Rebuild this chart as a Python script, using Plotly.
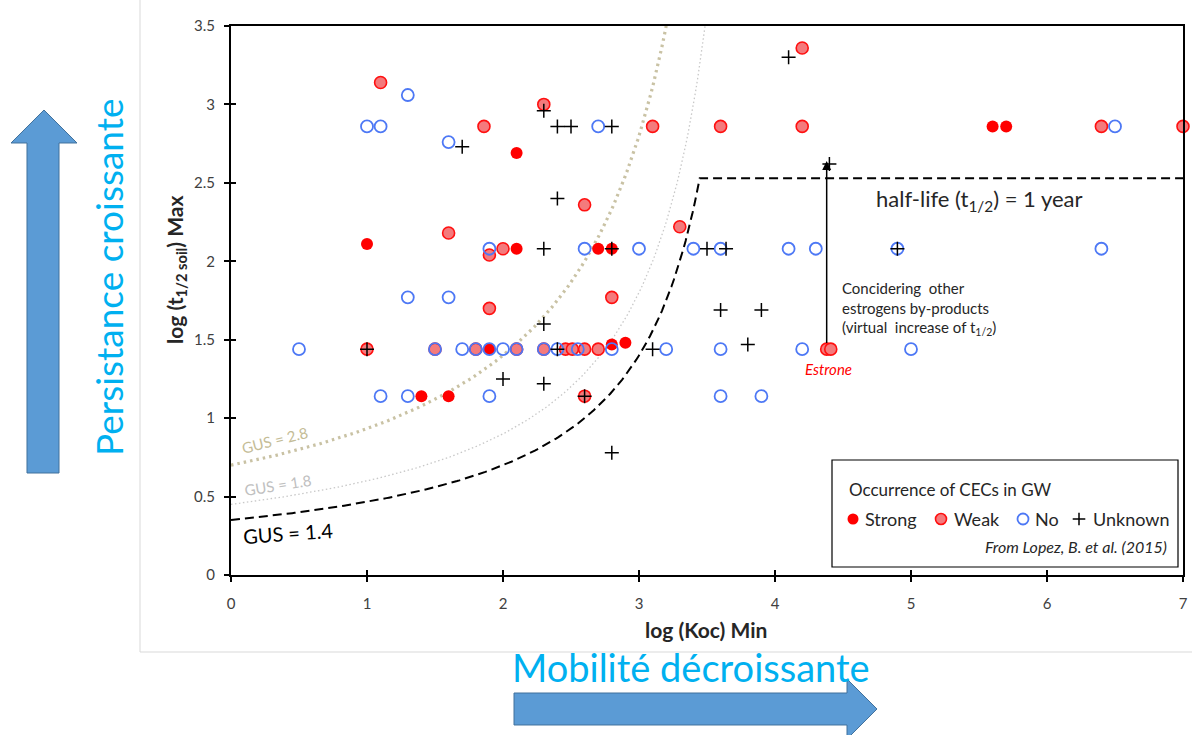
import numpy as np
import plotly.graph_objects as go

# ---------------- data ----------------
strong_x = [1.0, 2.1, 2.1, 2.7, 2.8, 1.4, 1.6, 1.9, 2.8, 2.9, 5.6, 5.7]
strong_y = [2.11, 2.69, 2.08, 2.08, 2.08, 1.14, 1.14, 1.44, 1.47, 1.48, 2.86, 2.86]

weak_x = [1.1, 1.86, 2.3, 1.6, 1.9, 2.0, 1.9, 1.0, 1.5, 1.8, 2.1, 2.3, 2.46, 2.51,
          2.6, 2.7, 2.6, 2.8, 2.6, 3.1, 3.6, 4.2, 4.2, 3.3, 4.38, 4.41, 6.4, 7.0]
weak_y = [3.14, 2.86, 3.0, 2.18, 2.04, 2.08, 1.70, 1.44, 1.44, 1.44, 1.44, 1.44, 1.44, 1.44,
          1.44, 1.44, 2.36, 1.77, 1.14, 2.86, 2.86, 2.86, 3.36, 2.22, 1.44, 1.44, 2.86, 2.86]

no_x = [1.3, 1.0, 1.1, 1.6, 2.7, 6.5,
        1.9, 2.6, 3.0, 3.4, 3.6, 4.1, 4.3, 4.9, 6.4,
        1.3, 1.6,
        0.5, 1.5, 1.7, 1.8, 1.9, 2.0, 2.1, 2.3, 2.4, 2.55, 2.8, 3.2, 3.6, 4.2, 5.0,
        1.1, 1.3, 1.9, 3.6, 3.9]
no_y = [3.06, 2.86, 2.86, 2.76, 2.86, 2.86,
        2.08, 2.08, 2.08, 2.08, 2.08, 2.08, 2.08, 2.08, 2.08,
        1.77, 1.77,
        1.44, 1.44, 1.44, 1.44, 1.44, 1.44, 1.44, 1.44, 1.44, 1.44, 1.44, 1.44, 1.44, 1.44, 1.44,
        1.14, 1.14, 1.14, 1.14, 1.14]

unknown_x = [1.7, 2.3, 2.4, 2.5, 2.8, 4.1, 2.4, 4.4, 2.3, 2.8, 3.5, 3.64, 4.9,
             2.3, 3.6, 3.9, 3.8, 1.0, 2.4, 3.1, 2.0, 2.3, 2.6, 2.8]
unknown_y = [2.73, 2.96, 2.86, 2.86, 2.86, 3.3, 2.4, 2.62, 2.08, 2.08, 2.08, 2.08, 2.08,
             1.6, 1.69, 1.69, 1.47, 1.44, 1.44, 1.44, 1.25, 1.22, 1.14, 0.78]

gus_values = [2.8, 1.8, 1.4]          # GUS = log(t1/2) * (4 - log Koc)
half_life_log = 2.53                  # 1-year half-life line as drawn
y_max = 3.5
x_max = 7

x_ticks = [0, 1, 2, 3, 4, 5, 6, 7]
y_ticks = [0, 0.5, 1, 1.5, 2, 2.5, 3, 3.5]

legend_names = ["Strong", "Weak", "No", "Unknown"]

FONT = "Lato"
TXT = "#262626"
W, H = 1192, 735
L, R, T, B = 231, 9, 26, 160
PX0, PX1, PY0, PY1 = 231, 1183, 575, 26   # plot-area edges in window pixels


def px(x):
    return (x - PX0) / (PX1 - PX0)


def py(y):
    return (PY0 - y) / (PY0 - PY1)


fig = go.Figure()

# ---------------- GUS curves ----------------
gus_styles = {
    2.8: dict(color="#C9C2A4", width=3.2, dash="2.5px,4px"),
    1.8: dict(color="#C8C8C8", width=1.3, dash="1.5px,2.5px"),
    1.4: dict(color="black", width=2, dash="9px,5px"),
}
for g in gus_values:
    if g == 1.4:
        x_end = 4 - g / half_life_log
        xs = np.linspace(0, x_end, 200)
        ys = g / (4 - xs)
        xs = np.append(xs, x_max)
        ys = np.append(ys, half_life_log)
    else:
        x_end = 4 - g / y_max
        xs = np.linspace(0, x_end, 200)
        ys = g / (4 - xs)
    fig.add_trace(go.Scatter(x=xs, y=ys, mode="lines", line=gus_styles[g],
                             showlegend=False, hoverinfo="skip"))

# ---------------- marker styles ----------------
styles = {
    "Strong": dict(symbol="circle", color="#FF0000", line=dict(width=0)),
    "Weak": dict(symbol="circle", color="#F47A7C", line=dict(width=1.6, color="#FF1010")),
    "No": dict(symbol="circle", color="rgba(255,255,255,0)",
               line=dict(width=1.8, color="#4D78F5")),
    "Unknown": dict(symbol="cross-thin", color="black", line=dict(width=1.5, color="black")),
}
sizes = {"Strong": 12, "Weak": 12, "No": 12, "Unknown": 10}
series = {"Strong": (strong_x, strong_y), "Weak": (weak_x, weak_y),
          "No": (no_x, no_y), "Unknown": (unknown_x, unknown_y)}

for name in legend_names:
    xs, ys = series[name]
    fig.add_trace(go.Scatter(x=xs, y=ys, mode="markers", name=name,
                             marker=dict(size=sizes[name], **styles[name]),
                             cliponaxis=False, showlegend=False))

# dummy traces for the inner half of the cross tick marks
fig.add_trace(go.Scatter(x=[None], y=[None], xaxis="x2", yaxis="y", showlegend=False))
fig.add_trace(go.Scatter(x=[None], y=[None], xaxis="x", yaxis="y2", showlegend=False))

# ---------------- hand-built legend (pixel-space overlay axes) ----------------
leg_marker_px = [853, 941, 1023, 1079]
leg_text_px = [863, 952, 1033, 1091]
leg_row_py = 519
for i, name in enumerate(legend_names):
    fig.add_trace(go.Scatter(x=[leg_marker_px[i]], y=[leg_row_py], xaxis="x3", yaxis="y3",
                             mode="markers", showlegend=False, hoverinfo="skip",
                             marker=dict(size=sizes[name] - 1, **styles[name]),
                             cliponaxis=False))

axis_common = dict(showgrid=False, zeroline=False, ticks="outside", ticklen=5,
                   tickwidth=1.5, tickcolor="black", automargin=False,
                   tickfont=dict(family=FONT, size=15, color="#404040"))
inner_ticks = dict(ticks="inside", ticklen=5, tickwidth=1.5, tickcolor="black",
                   showticklabels=False, showgrid=False, zeroline=False,
                   showline=False, automargin=False)

fig.update_layout(
    width=W, height=H,
    margin=dict(l=L, r=R, t=T, b=B, autoexpand=False),
    paper_bgcolor="white", plot_bgcolor="white",
    font=dict(family=FONT, color=TXT),
    showlegend=False,
    xaxis=dict(range=[0, x_max], tickvals=x_ticks, showline=True, linecolor="black",
               linewidth=2, mirror=True, ticklabelstandoff=9, **axis_common),
    yaxis=dict(range=[0, y_max], tickvals=y_ticks, showline=True, linecolor="black",
               linewidth=2, mirror=True, ticklabelstandoff=6, **axis_common),
    xaxis2=dict(range=[0, x_max], overlaying="x", anchor="y", side="bottom",
                tickvals=x_ticks, **inner_ticks),
    yaxis2=dict(range=[0, y_max], overlaying="y", anchor="x", side="left",
                tickvals=y_ticks, **inner_ticks),
    xaxis3=dict(range=[PX0, PX1], overlaying="x", anchor="y3", visible=False),
    yaxis3=dict(range=[PY0, PY1], overlaying="y", anchor="x3", visible=False),
)

shapes = []
# legend box
shapes.append(dict(type="rect", xref="paper", yref="paper",
                   x0=px(832), x1=px(1178), y0=py(567), y1=py(460),
                   line=dict(color="black", width=1.2), fillcolor="rgba(0,0,0,0)"))
# light frame of the chart area
shapes.append(dict(type="line", xref="paper", yref="paper",
                   x0=px(140), x1=px(140), y0=py(0), y1=py(652),
                   line=dict(color="#D9D9D9", width=1)))
shapes.append(dict(type="line", xref="paper", yref="paper",
                   x0=px(140), x1=px(1192), y0=py(652), y1=py(652),
                   line=dict(color="#D9D9D9", width=1)))


def path(points):
    return "M " + " L ".join(f"{px(a):.5f},{py(b):.5f}" for a, b in points) + " Z"


# big blue arrows
shapes.append(dict(type="path", xref="paper", yref="paper",
                   path=path([(27, 473), (27, 143), (11, 143), (44, 110), (77, 143),
                              (59, 143), (59, 473)]),
                   fillcolor="#5B9BD5", line=dict(color="#41719C", width=1)))
shapes.append(dict(type="path", xref="paper", yref="paper",
                   path=path([(514, 693), (847, 693), (847, 679), (877, 709), (847, 739),
                              (847, 725), (514, 725)]),
                   fillcolor="#5B9BD5", line=dict(color="#41719C", width=1)))
fig.update_layout(shapes=shapes)

ann = []
# legend texts
ann.append(dict(xref="paper", yref="paper", x=px(847), y=py(489), xanchor="left",
                yanchor="middle", showarrow=False, text="Occurrence of CECs in GW",
                font=dict(family=FONT, size=17, color=TXT)))
for i, name in enumerate(legend_names):
    ann.append(dict(xref="paper", yref="paper", x=px(leg_text_px[i]), y=py(leg_row_py),
                    xanchor="left", yanchor="middle", showarrow=False, text=name,
                    font=dict(family=FONT, size=18, color=TXT)))
ann.append(dict(xref="paper", yref="paper", x=px(1169), y=py(546), xanchor="right",
                yanchor="middle", showarrow=False,
                text="<i>From Lopez, B. et al. (2015)</i>",
                font=dict(family=FONT, size=16, color=TXT)))
# axis titles
ann.append(dict(xref="paper", yref="paper", x=px(706), y=py(629), xanchor="center",
                yanchor="middle", showarrow=False, text="<b>log (Koc) Min</b>",
                font=dict(family=FONT, size=21, color=TXT)))
ann.append(dict(xref="paper", yref="paper", x=px(176), y=py(270), xanchor="center",
                yanchor="middle", showarrow=False, textangle=-90,
                text="<b>log (t<sub>1/2 soil</sub>) Max</b>",
                font=dict(family=FONT, size=21, color=TXT)))
# GUS labels
ann.append(dict(x=0.32, y=0.86, showarrow=False, text="GUS = 2.8", textangle=-14,
                font=dict(family=FONT, size=15, color="#C4BC96")))
ann.append(dict(x=0.34, y=0.575, showarrow=False, text="GUS = 1.8", textangle=-9,
                font=dict(family=FONT, size=15, color="#C0C0C0")))
ann.append(dict(x=0.42, y=0.265, showarrow=False, text="GUS = 1.4", textangle=-4,
                font=dict(family=FONT, size=20, color="black")))
ann.append(dict(x=5.5, y=2.39, showarrow=False,
                text="half-life (t<sub>1/2</sub>) = 1 year",
                font=dict(family=FONT, size=22, color=TXT)))
# arrow for estrogens by-products
ann.append(dict(x=4.38, y=2.64, ax=4.38, ay=1.47, axref="x", ayref="y", text="",
                showarrow=True, arrowhead=2, arrowsize=1.2, arrowwidth=1.5,
                arrowcolor="black"))
ann.append(dict(x=4.48, y=1.70, xanchor="left", yanchor="middle", showarrow=False,
                align="left",
                text="Concidering  other<br>estrogens by-products<br>(virtual  increase of t<sub>1/2</sub>)",
                font=dict(family=FONT, size=15, color=TXT)))
ann.append(dict(x=4.39, y=1.315, showarrow=False, text="<i>Estrone</i>",
                font=dict(family=FONT, size=15, color="#FF0000")))
# big arrow captions
ann.append(dict(xref="paper", yref="paper", x=px(108), y=py(277), xanchor="center",
                yanchor="middle", showarrow=False, textangle=-90,
                text="Persistance croissante",
                font=dict(family=FONT, size=37, color="#00B0F0")))
ann.append(dict(xref="paper", yref="paper", x=px(691), y=py(667), xanchor="center",
                yanchor="middle", showarrow=False, text="Mobilité décroissante",
                font=dict(family=FONT, size=38, color="#00B0F0")))
fig.update_layout(annotations=ann)

fig.write_html(
    "out.html",
    config={"displayModeBar": False},
    post_script=("document.documentElement.style.overflow='hidden';"
                 "document.body.style.margin='0px';"
                 "document.body.style.overflow='hidden';"),
)
